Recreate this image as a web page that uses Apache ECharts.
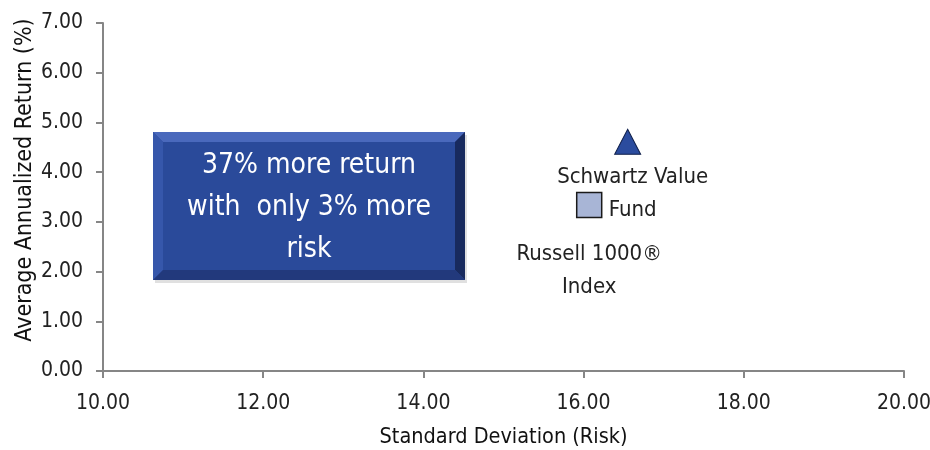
<!DOCTYPE html>
<html>
<head>
<meta charset="utf-8">
<script src="https://cdn.jsdelivr.net/npm/echarts@6/dist/echarts.min.js"></script>
<style>
html,body{margin:0;padding:0;background:#fff;}
#chart{width:930px;height:450px;}
</style>
</head>
<body>
<div id="chart"></div>
<script>
const seriesNames = ['Schwartz Value Fund', 'Russell 1000® Index'];
const pointLabels = ['Schwartz Value\nFund', 'Russell 1000®\nIndex'];
const riskValues = [16.55, 16.07];
const returnValues = [4.61, 3.34];
const xTicks = [10, 12, 14, 16, 18, 20];
const yTicks = [0, 1, 2, 3, 4, 5, 6, 7];
const calloutText = '37% more return\nwith  only 3% more\nrisk';

const FONT = "'Liberation Sans Narrow', 'DejaVu Sans Condensed', sans-serif";
const chart = echarts.init(document.getElementById('chart'), null, {renderer: 'canvas'});

const axisLine = {show: true, lineStyle: {color: '#868686', width: 2}};
const axisTick = {show: true, inside: false, length: 7, lineStyle: {color: '#868686', width: 2}};

const bx = 153, by = 132, bw = 312, bh = 148, bv = 10;

chart.setOption({
  animation: false,
  grid: {left: 103, right: 26, top: 23, bottom: 79, containLabel: false, outerBoundsMode: 'none'},
  xAxis: {
    type: 'value', min: xTicks[0], max: xTicks[xTicks.length - 1], interval: 2,
    name: 'Standard Deviation (Risk)', nameLocation: 'middle', nameGap: 55, nameMoveOverlap: false,
    nameTextStyle: {fontFamily: FONT, fontSize: 21.5, color: '#111'},
    axisLine, axisTick, splitLine: {show: false},
    axisLabel: {fontFamily: FONT, fontSize: 21, color: '#222', margin: 22,
      formatter: v => v.toFixed(2)}
  },
  yAxis: {
    type: 'value', min: yTicks[0], max: yTicks[yTicks.length - 1], interval: 1,
    name: 'Average Annualized Return (%)', nameLocation: 'middle', nameGap: 66, nameMoveOverlap: false,
    nameTextStyle: {fontFamily: FONT, fontSize: 23, color: '#111', padding: [0, 0, 0, 34]},
    axisLine, axisTick, splitLine: {show: false},
    axisLabel: {fontFamily: FONT, fontSize: 21, color: '#222', margin: 20,
      formatter: v => v.toFixed(2)}
  },
  series: [
    {
      name: seriesNames[0], type: 'scatter', symbol: 'triangle', symbolSize: [26, 25],
      itemStyle: {color: '#2B4C9E', borderColor: '#0f1f4a', borderWidth: 1, opacity: 1},
      label: {show: true, position: 'bottom', distance: 6, offset: [5, 0], formatter: pointLabels[0],
        fontFamily: FONT, fontSize: 22, lineHeight: 33, color: '#222', align: 'center'},
      data: [[riskValues[0], returnValues[0]]]
    },
    {
      name: seriesNames[1], type: 'scatter', symbol: 'rect', symbolSize: 25,
      itemStyle: {color: '#A8B5D6', borderColor: '#1a1a1a', borderWidth: 1.5, opacity: 1},
      label: {show: true, position: 'bottom', distance: 20, formatter: pointLabels[1],
        fontFamily: FONT, fontSize: 22, lineHeight: 33, color: '#222', align: 'center'},
      data: [[riskValues[1], returnValues[1]]]
    }
  ],
  graphic: [
    {type: 'rect', shape: {x: bx + 2, y: by + 3, width: bw, height: bh}, style: {fill: 'rgba(0,0,0,0.12)'}, z: 10},
    {type: 'rect', shape: {x: bx, y: by, width: bw, height: bh}, style: {fill: '#2A4A9A'}, z: 11},
    {type: 'polygon', shape: {points: [[bx, by], [bx + bw, by], [bx + bw - bv, by + bv], [bx + bv, by + bv]]}, style: {fill: '#4A69BC'}, z: 12},
    {type: 'polygon', shape: {points: [[bx, by], [bx + bv, by + bv], [bx + bv, by + bh - bv], [bx, by + bh]]}, style: {fill: '#3657AB'}, z: 12},
    {type: 'polygon', shape: {points: [[bx + bw, by], [bx + bw, by + bh], [bx + bw - bv, by + bh - bv], [bx + bw - bv, by + bv]]}, style: {fill: '#182A5E'}, z: 12},
    {type: 'polygon', shape: {points: [[bx, by + bh], [bx + bv, by + bh - bv], [bx + bw - bv, by + bh - bv], [bx + bw, by + bh]]}, style: {fill: '#22397C'}, z: 12},
    {type: 'text', x: bx + bw / 2, y: by + bh / 2 + 2, z: 13,
      style: {text: calloutText, fill: '#fff', font: '28px ' + FONT, lineHeight: 42,
        align: 'center', verticalAlign: 'middle'}}
  ]
});
</script>
</body>
</html>
